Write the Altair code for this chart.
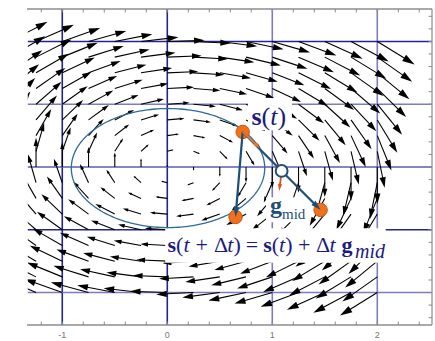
import math

import altair as alt
import pandas as pd

# ---------------------------------------------------------------- layout
W, H = 405, 316
X_DOMAIN = [-1.336, 2.521]
Y_DOMAIN = [-1.51, 1.51]
PX_X = W / (X_DOMAIN[1] - X_DOMAIN[0])
PX_Y = H / (Y_DOMAIN[1] - Y_DOMAIN[0])

X_LABELS = [-1, 0, 1, 2]
X_TICKS = [-1.2, -1.0, -0.8, -0.6, -0.4, -0.2, 0.0, 0.2, 0.4, 0.6, 0.8,
           1.0, 1.2, 1.4, 1.6, 1.8, 2.0, 2.2, 2.4]
Y_TICKS = [-1.44, -1.32, -1.2, -1.08, -0.96, -0.84, -0.72, -0.6, -0.48,
           -0.36, -0.24, -0.12, 0.0, 0.12, 0.24, 0.36, 0.48, 0.6, 0.72,
           0.84, 0.96, 1.08, 1.2, 1.32, 1.44]

GRID_X = [-1, 0, 1, 2]
GRID_X_COLOR = ["#24248c", "#24248c", "#7c7cbf", "#7c7cbf"]
GRID_Y = [1.2, 0.6, 0.0, -0.6, -1.2]
GRID_Y_COLOR = ["#24248c", "#7c7cbf", "#5c5cad", "#24248c", "#7c7cbf"]

# ---------------------------------------------------------------- velocity field
FIELD_X = [-1.5, -1.25, -1.0, -0.75, -0.5, -0.25, 0.0, 0.25, 0.5, 0.75,
           1.0, 1.25, 1.5, 1.75, 2.0]
FIELD_Y = [-1.2, -1.05, -0.9, -0.75, -0.6, -0.45, -0.3, -0.15, 0.0, 0.15,
           0.3, 0.45, 0.6, 0.75, 0.9, 1.05, 1.2]
FIELD_CENTER = [0.1, 0.0]
FIELD_AXES = [0.92, 0.575]      # elliptic orbits of the field
ARROW_MAX = 0.48                # longest arrow, data units
ARROW_SCALE = 2.2

# ---------------------------------------------------------------- integration step
ORBIT_CENTER = [0.007, -0.01]
ORBIT_AXES = [0.921, 0.569]
S_T = [0.718, 0.335]
S_EULER_MID = [1.46, -0.41]
S_MID = [1.089, -0.0375]
S_NEXT = [0.65, -0.478]
G_ST_TIP = [0.883, 0.179]
G_MID_TIP = [1.066, -0.23]

NAVY = "#1c1c7c"
STEEL = "#1f4e79"
ORANGE = "#f3701a"

# ---------------------------------------------------------------- labels
# Liberation Serif advance widths (em) of the glyphs used below
ADVANCE = {("s", "b"): 0.389, ("g", "b"): 0.5, ("t", "i"): 0.278,
           ("(", "r"): 0.333, (")", "r"): 0.333, ("+", "r"): 0.564,
           ("=", "r"): 0.564, ("Δ", "r"): 0.612, ("mid", "i"): 1.5,
           ("mid", "r"): 1.556}

# (glyph, style, gap before in px)
EQ_PIECES = [("s", "b", 0), ("(", "r", 0), ("t", "i", 0), ("+", "r", 6),
             ("Δ", "r", 6), ("t", "i", 0), (")", "r", 0), ("=", "r", 5),
             ("s", "b", 5), ("(", "r", 0), ("t", "i", 0), (")", "r", 0),
             ("+", "r", 5.5), ("Δ", "r", 5.5), ("t", "i", 0), ("g", "b", 6),
             ("mid", "i", 2.5)]
EQ_START, EQ_Y, EQ_SUB_Y = 0.002, -0.812, -0.868
EQ_SIZE, EQ_SUB_SIZE = 22, 20

ST_PIECES = [("s", "b", 0), ("(", "r", 0), ("t", "i", 0), (")", "r", 0)]
ST_START, ST_Y, ST_SIZE = 0.802, 0.399, 26

GM_START = 0.978
GM_PIECES = [("g", "b", 0, -0.443, 24), ("mid", "r", 0, -0.495, 15)]

# white boxes behind the labels: x0, x1, y0, y1
BOXES = [[0.768, 1.187, 0.351, 0.657],
         [0.940, 1.340, -0.529, -0.290],
         [-0.020, 2.080, -0.915, -0.585]]

xs = alt.Scale(domain=X_DOMAIN, nice=False, zero=False)
ys = alt.Scale(domain=Y_DOMAIN, nice=False, zero=False)
HEAD = "M0,0L-1,-0.3L-1,0.3Z"


def X(f, **kw):
    return alt.X(f, scale=xs, axis=None, **kw)


def Y(f, **kw):
    return alt.Y(f, scale=ys, axis=None, **kw)


def arrow_rows(x1, y1, x2, y2, head_px):
    dx, dy = x2 - x1, y2 - y1
    lp = math.hypot(dx * PX_X, dy * PX_Y)
    ux, uy = dx * PX_X / lp, dy * PX_Y / lp
    back = 0.6 * head_px
    ex = x2 - ux * back / PX_X
    ey = y2 - uy * back / PX_Y
    ang = (-math.degrees(math.atan2(uy, ux))) % 360
    return dict(x=x1, y=y1, x2=ex, y2=ey, tx=x2, ty=y2, angle=ang,
                size=(2 * head_px) ** 2)


# field arrows (tail at the grid node)
fa, fb = FIELD_AXES
cx, cy = FIELD_CENTER
field = []
for gy in FIELD_Y:
    for gx in FIELD_X:
        dx, dy = gx - cx, gy - cy
        u, v = dy / fb ** 2, -dx / fa ** 2
        n = math.hypot(u, v)
        r = math.hypot(dx / fa, dy / fb)
        L = ARROW_MAX * math.tanh(r / ARROW_SCALE)
        tx, ty = gx + L * u / n, gy + L * v / n
        field.append(arrow_rows(gx, gy, tx, ty, 0.28 * L * PX_X))
field = pd.DataFrame(field)

shafts = alt.Chart(field).mark_rule(color="black", strokeWidth=1.1, clip=True).encode(
    x=X("x:Q"), y=Y("y:Q"), x2="x2:Q", y2="y2:Q")
heads = alt.Chart(field).mark_point(shape=HEAD, filled=True, color="black",
                                    opacity=1, strokeWidth=0, clip=True).encode(
    x=X("tx:Q"), y=Y("ty:Q"),
    angle=alt.Angle("angle:Q", scale=None), size=alt.Size("size:Q", scale=None))

# grid lines
gx_df = pd.DataFrame({"v": GRID_X, "c": GRID_X_COLOR})
gy_df = pd.DataFrame({"v": GRID_Y, "c": GRID_Y_COLOR})
grid_v = alt.Chart(gx_df).mark_rule(strokeWidth=1.6).encode(
    x=X("v:Q"), color=alt.Color("c:N", scale=None))
grid_h = alt.Chart(gy_df).mark_rule(strokeWidth=1.6).encode(
    y=Y("v:Q"), color=alt.Color("c:N", scale=None))

# frame: top, bottom and right edges with inward ticks; the left edge stays open
FRAME = "#8c8c8c"
edges_h = pd.DataFrame({"v": [Y_DOMAIN[1], Y_DOMAIN[0]]})
edges_v = pd.DataFrame({"v": [X_DOMAIN[1]]})
left_edge = pd.DataFrame({"v": [X_DOMAIN[0]]})
frame_h = alt.Chart(edges_h).mark_rule(color=FRAME, strokeWidth=1.6).encode(y=Y("v:Q"))
frame_v = alt.Chart(edges_v).mark_rule(color=FRAME, strokeWidth=1.2).encode(x=X("v:Q"))
open_left = alt.Chart(left_edge).mark_rule(color="white", strokeWidth=1.6).encode(
    x=X("v:Q"), y=alt.value(1), y2=alt.value(H - 1))
xt = pd.DataFrame({"v": X_TICKS})
yt = pd.DataFrame({"v": Y_TICKS})
top_ticks = alt.Chart(xt).mark_rule(color=FRAME, strokeWidth=1).encode(
    x=X("v:Q"), y=alt.value(0), y2=alt.value(3.5))
bot_ticks = alt.Chart(xt).mark_rule(color=FRAME, strokeWidth=1).encode(
    x=X("v:Q"), y=alt.value(H), y2=alt.value(H - 3.5))
right_ticks = alt.Chart(yt).mark_rule(color=FRAME, strokeWidth=1).encode(
    y=Y("v:Q"), x=alt.value(W), x2=alt.value(W - 3.5))
lab_df = pd.DataFrame({"v": X_LABELS, "t": [str(v) for v in X_LABELS]})
x_labels = alt.Chart(lab_df).mark_text(font="Liberation Sans", fontSize=9, color="#777777",
                                       baseline="middle").encode(
    x=X("v:Q"), y=alt.value(H + 10), text="t:N")

# white label boxes
box_df = pd.DataFrame(BOXES, columns=["x0", "x1", "y0", "y1"])
boxes = alt.Chart(box_df).mark_rect(color="white").encode(
    x=X("x0:Q"), x2="x1:Q", y=Y("y0:Q"), y2="y1:Q")

# orbit ellipse
N = 240
orbit = pd.DataFrame({
    "t": list(range(N + 1)),
    "x": [ORBIT_CENTER[0] + ORBIT_AXES[0] * math.cos(2 * math.pi * i / N) for i in range(N + 1)],
    "y": [ORBIT_CENTER[1] + ORBIT_AXES[1] * math.sin(2 * math.pi * i / N) for i in range(N + 1)],
})
ellipse = alt.Chart(orbit).mark_line(color="#2f6b9c", strokeWidth=1.3).encode(
    x=X("x:Q"), y=Y("y:Q"), order="t:Q")

# states
pts = pd.DataFrame({"x": [S_T[0], S_NEXT[0], S_EULER_MID[0]],
                    "y": [S_T[1], S_NEXT[1], S_EULER_MID[1]]})
dots = alt.Chart(pts).mark_point(filled=True, shape="circle", size=180, color=ORANGE,
                                 stroke="#c4560e", strokeWidth=1, opacity=1).encode(
    x=X("x:Q"), y=Y("y:Q"))

steps = pd.DataFrame([
    dict(arrow_rows(S_T[0], S_T[1], S_NEXT[0], S_NEXT[1], 10), c=STEEL, w=2.2),
    dict(arrow_rows(S_T[0], S_T[1], S_EULER_MID[0], S_EULER_MID[1], 10), c=STEEL, w=2.2),
    dict(arrow_rows(S_T[0], S_T[1], G_ST_TIP[0], G_ST_TIP[1], 7), c="#f07a22", w=1.8),
    dict(arrow_rows(S_MID[0], S_MID[1], G_MID_TIP[0], G_MID_TIP[1], 7), c="#e2511b", w=1.8),
])
step_lines = alt.Chart(steps).mark_rule().encode(
    x=X("x:Q"), y=Y("y:Q"), x2="x2:Q", y2="y2:Q",
    color=alt.Color("c:N", scale=None), strokeWidth=alt.StrokeWidth("w:Q", scale=None))
step_heads = alt.Chart(steps).mark_point(shape=HEAD, filled=True, opacity=1, strokeWidth=0).encode(
    x=X("tx:Q"), y=Y("ty:Q"), color=alt.Color("c:N", scale=None),
    angle=alt.Angle("angle:Q", scale=None), size=alt.Size("size:Q", scale=None))

mid_df = pd.DataFrame({"x": [S_MID[0]], "y": [S_MID[1]]})
mid_ring = alt.Chart(mid_df).mark_point(shape="circle", size=140, filled=False, fill="white",
                                        stroke=STEEL, strokeWidth=2, opacity=1).encode(
    x=X("x:Q"), y=Y("y:Q"))


# text pieces, set one after another from their advance widths
def set_run(pieces, start, color):
    out, x = [], start
    for p in pieces:
        t, s, gap, y, size = p
        x += gap / PX_X
        out.append(dict(t=t, x=x, y=y, size=size, s=s, c=color))
        x += ADVANCE[(t, s)] * size / PX_X
    return out


eq = [(t, s, g, EQ_SUB_Y if t == "mid" else EQ_Y, EQ_SUB_SIZE if t == "mid" else EQ_SIZE)
      for t, s, g in EQ_PIECES]
st = [(t, s, g, ST_Y, ST_SIZE) for t, s, g in ST_PIECES]
txt = pd.DataFrame(set_run(eq, EQ_START, NAVY) + set_run(st, ST_START, NAVY)
                   + set_run(GM_PIECES, GM_START, STEEL))


def text_layer(style, weight, fstyle):
    return alt.Chart(txt).transform_filter(alt.datum.s == style).mark_text(
        font="Liberation Serif", fontWeight=weight, fontStyle=fstyle,
        align="left", baseline="alphabetic").encode(
        x=X("x:Q"), y=Y("y:Q"), text="t:N",
        size=alt.Size("size:Q", scale=None), color=alt.Color("c:N", scale=None))


texts = [text_layer("b", "bold", "normal"), text_layer("i", "normal", "italic"),
         text_layer("r", "normal", "normal")]

chart = alt.layer(
    grid_v, grid_h, shafts, heads, boxes, ellipse,
    frame_h, frame_v, top_ticks, bot_ticks, right_ticks, x_labels, open_left,
    dots, step_lines, step_heads, mid_ring, *texts,
).properties(
    width=W, height=H, background="white",
    padding={"left": 27, "top": 9, "right": 3, "bottom": 16},
    autosize=alt.AutoSizeParams(type="none"),
).configure_view(stroke="transparent", strokeWidth=0, strokeOpacity=0)

chart.save("out.html", embed_options={"renderer": "svg", "actions": False})
